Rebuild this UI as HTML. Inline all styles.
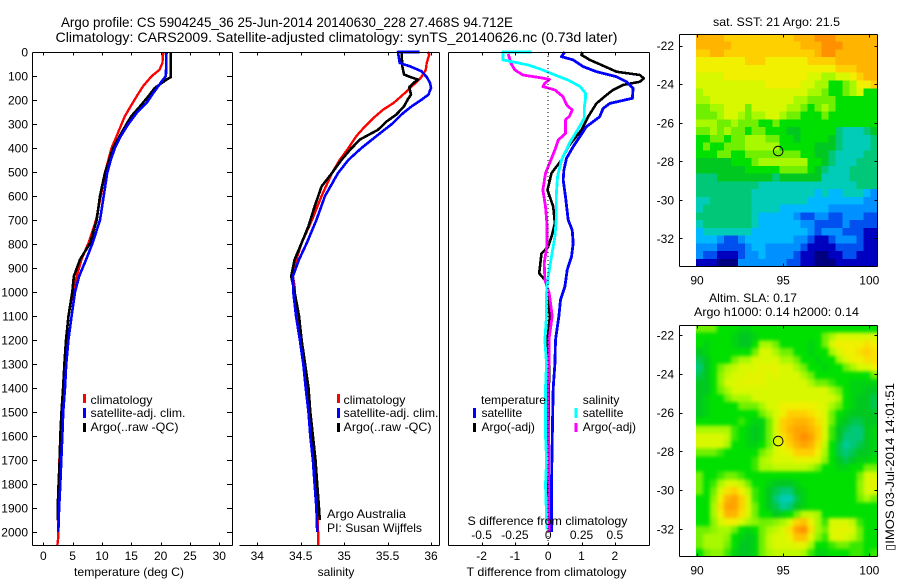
<!DOCTYPE html>
<html>
<head>
<meta charset="utf-8">
<title>Argo profile</title>
<style>
html,body{margin:0;padding:0;background:#fff;}
svg{display:block;}
text{font-family:"Liberation Sans",sans-serif;font-size:12px;fill:#000;}
.ttl{font-size:14px;}
</style>
</head>
<body>
<svg id="chart" xmlns="http://www.w3.org/2000/svg" width="900" height="580" viewBox="0 0 900 580">
<defs>
<filter id="slaBlur" x="-5%" y="-5%" width="110%" height="110%" color-interpolation-filters="sRGB"><feGaussianBlur stdDeviation="1.8"/></filter>
<clipPath id="slaClip"><rect x="696" y="325.5" width="181.5" height="231"/></clipPath>
</defs>
<rect x="0" y="0" width="900" height="580" fill="#fff"/>
<g id="maps"></g>
<g clip-path="url(#slaClip)"><g id="mapsB" filter="url(#slaBlur)"></g></g>
<g id="marks"></g>
<g id="axes"></g>

<text class="ttl" x="61" y="27" textLength="452" lengthAdjust="spacingAndGlyphs">Argo profile: CS 5904245_36 25-Jun-2014 20140630_228 27.468S 94.712E</text>
<text class="ttl" x="55.5" y="42" textLength="562" lengthAdjust="spacingAndGlyphs">Climatology: CARS2009. Satellite-adjusted climatology: synTS_20140626.nc (0.73d later)</text>

<text x="129" y="576" text-anchor="middle" textLength="110" lengthAdjust="spacingAndGlyphs">temperature (deg C)</text>
<text x="336" y="576" text-anchor="middle">salinity</text>
<text x="546.5" y="576" text-anchor="middle" textLength="160" lengthAdjust="spacingAndGlyphs">T difference from climatology</text>
<text x="547.5" y="525" text-anchor="middle" textLength="160" lengthAdjust="spacingAndGlyphs">S difference from climatology</text>

<g>
<rect x="83" y="394" width="3" height="9" fill="#f00"/>
<text x="90.5" y="404" textLength="62" lengthAdjust="spacingAndGlyphs">climatology</text>
<rect x="83" y="408" width="3" height="10" fill="#00f"/>
<text x="90.5" y="417" textLength="95" lengthAdjust="spacingAndGlyphs">satellite-adj. clim.</text>
<rect x="83" y="423" width="3" height="9" fill="#000"/>
<text x="90.5" y="431" textLength="88" lengthAdjust="spacingAndGlyphs">Argo(..raw -QC)</text>
</g>
<g>
<rect x="337" y="394" width="3" height="9" fill="#f00"/>
<text x="343.5" y="404" textLength="62" lengthAdjust="spacingAndGlyphs">climatology</text>
<rect x="337" y="408" width="3" height="10" fill="#00f"/>
<text x="343.5" y="417" textLength="95" lengthAdjust="spacingAndGlyphs">satellite-adj. clim.</text>
<rect x="337" y="423" width="3" height="9" fill="#000"/>
<text x="343.5" y="431" textLength="88" lengthAdjust="spacingAndGlyphs">Argo(..raw -QC)</text>
<text x="327" y="518" textLength="79" lengthAdjust="spacingAndGlyphs">Argo Australia</text>
<text x="327" y="532" textLength="95" lengthAdjust="spacingAndGlyphs">PI: Susan Wijffels</text>
</g>
<g>
<text x="481" y="404" textLength="65" lengthAdjust="spacingAndGlyphs">temperature</text>
<rect x="473" y="408" width="3" height="10" fill="#00f"/>
<text x="481.5" y="417">satellite</text>
<rect x="473" y="423" width="3" height="9" fill="#000"/>
<text x="481.5" y="431">Argo(-adj)</text>
<text x="582.7" y="404">salinity</text>
<rect x="574.5" y="408" width="3" height="10" fill="#0ff"/>
<text x="582.7" y="417">satellite</text>
<rect x="574.5" y="423" width="3" height="9" fill="#f0f"/>
<text x="582.7" y="431">Argo(-adj)</text>
</g>

<text x="776.5" y="26" text-anchor="middle" textLength="127" lengthAdjust="spacingAndGlyphs">sat. SST: 21 Argo: 21.5</text>
<text x="753" y="302" text-anchor="middle" textLength="88" lengthAdjust="spacingAndGlyphs">Altim. SLA: 0.17</text>
<text x="776.5" y="316" text-anchor="middle" textLength="165" lengthAdjust="spacingAndGlyphs">Argo h1000: 0.14 h2000: 0.14</text>
<text transform="translate(894,551) rotate(-90)" textLength="168" lengthAdjust="spacingAndGlyphs">▯IMOS 03-Jul-2014 14:01:51</text>
</svg>

<script>
/* ---------- depth ticks and tick labels ---------- */
var depthTicks = [0,100,200,300,400,500,600,700,800,900,1000,1100,1200,1300,1400,1500,1600,1700,1800,1900,2000];
var tempTicks = [0,5,10,15,20,25,30];
var salTicks = [34,34.5,35,35.5,36];
var tDiffTicks = [-2,-1,0,1,2];
var sDiffTicks = [-0.5,-0.25,0,0.25,0.5];
var lonTicks = [90,95,100];
var latTicks = [-22,-24,-26,-28,-30,-32];

/* ---------- temperature panel ---------- */
var tempClimDepth = [0,46,74,100,143,185,226,268,300,351,400,449,504,600,700,796,865,935,1004,1100,1200,1300,1400,1500,1600,1700,1800,1900,2020,2054];
var tempClim = [20.45,20.3,19.8,18.5,17,15.9,14.9,13.9,13.35,12.5,11.65,11.1,10.5,9.8,9,7.7,6.5,5.7,5,4.3,3.9,3.6,3.35,3.1,2.9,2.75,2.6,2.45,2.55,2.4];
var tempSatDepth = [0,100,122,171,212,254,300,351,400,449,504,600,700,796,865,935,1000,1100,1200,1300,1400,1500,1600,1700,1800,1900,2000];
var tempSat = [21,20.9,20.2,18.75,17.6,15.9,14.5,13.2,12.2,11.5,10.9,10.3,9.66,8.4,7.3,6.1,5.4,4.83,4.27,3.9,3.7,3.4,3.24,3.07,2.9,2.7,2.55];
var tempArgoDepth = [0,105,115,150,185,226,268,300,351,400,449,504,600,700,796,865,935,1000,1100,1200,1300,1400,1500,1600,1700,1800,1900,1950];
var tempArgo = [21.7,21.7,21,19,17.9,16.5,15,14.2,13,11.9,11.25,10.5,9.66,9.1,8,6.25,5.2,4.95,4.3,3.87,3.6,3.37,3.1,2.9,2.8,2.6,2.45,2.45];

/* ---------- salinity panel ---------- */
var salClimDepth = [0,10,46,74,104,129,171,212,240,268,310,351,400,449,504,600,700,796,865,935,976,1004,1050,1100,1200,1300,1400,1500,1600,1700,1800,1900,2000,2054];
var salClim = [35.96,35.98,35.95,35.94,35.89,35.82,35.7,35.57,35.45,35.36,35.24,35.14,35.05,34.95,34.86,34.74,34.63,34.51,34.45,34.41,34.43,34.43,34.44,34.46,34.5,34.54,34.57,34.6,34.63,34.65,34.67,34.69,34.7,34.7];
var salSatDepth = [0,0,25,46,60,80,104,129,150,178,199,226,254,300,351,400,449,504,600,700,796,865,935,1000,1100,1200,1300,1400,1500,1600,1700,1800,1900,2000];
var salSat = [35.87,35.62,35.63,35.64,35.76,35.89,35.95,35.99,36,35.97,35.89,35.78,35.68,35.55,35.37,35.2,35.05,34.93,34.78,34.68,34.57,34.48,34.41,34.415,34.446,34.49,34.53,34.557,34.59,34.61,34.64,34.66,34.68,34.69];
var salArgoDepth = [0,60,94,104,115,129,146,178,199,226,261,289,324,365,407,449,504,560,644,726,796,865,935,1000,1100,1200,1300,1400,1500,1600,1700,1800,1900,1950];
var salArgo = [35.66,35.67,35.69,35.76,35.85,35.8,35.75,35.77,35.73,35.69,35.6,35.49,35.39,35.18,35.07,34.97,34.86,34.74,34.66,34.59,34.51,34.43,34.39,34.43,34.48,34.51,34.55,34.59,34.61,34.64,34.67,34.69,34.71,34.72];

/* ---------- difference panel ---------- */
var dTSatDepth = [0,19,33,61,82,103,124,151,193,214,235,269,311,353,394,443,492,533,603,700,742,797,853,908,978,1033,1100,1200,1300,1400,1550,1800,2000];
var dTSat = [0.5,0.4,0.75,1.05,1.45,2.05,2.35,2.55,2.53,1.85,1.65,1.55,1.15,0.95,0.75,0.55,0.47,0.45,0.52,0.6,0.72,0.75,0.7,0.57,0.5,0.37,0.32,0.22,0.2,0.15,0.13,0.1,0.1];
var dTArgoDepth = [0,12,33,54,82,96,110,124,137,158,179,214,269,325,394,450,505,575,644,714,769,811,839,922,957,1019,1100,1200,1300,1400,1950];
var dTArgo = [1.03,1,1.25,1.6,2.05,2.75,2.87,2.75,2.25,1.95,1.75,1.45,1.2,1,0.6,0.4,0.1,-0.02,0.15,0.2,0.1,0,-0.2,-0.27,-0.05,-0.03,0.05,-0.02,0.03,0.02,0];
var dSSatDepth = [0,0,8,33,40,54,75,96,117,144,172,193,235,276,325,380,450,519,603,700,769,853,936,1005,1100,1200,1300,1400,1600,1700,1800,1990];
var dSSat = [-0.125,-0.34,-0.34,-0.34,-0.275,-0.15,-0.04,0.05,0.15,0.24,0.28,0.28,0.27,0.27,0.22,0.16,0.1,0.07,0.06,0.06,0.05,0.025,0,-0.0125,-0.0125,-0.025,-0.0125,-0.02,-0.02,-0.012,-0.02,-0.01];
var dSArgoDepth = [8,47,75,96,107,114,130,144,158,186,221,242,267,283,339,367,408,464,505,575,644,714,811,880,950,1005,1100,1200,1300,1400,2000];
var dSArgo = [-0.3,-0.28,-0.25,-0.19,-0.06,0.01,-0.025,-0.04,0.05,0.11,0.14,0.18,0.16,0.13,0.13,0.075,0.05,0.01,-0.02,-0.04,-0.02,-0.01,-0.01,-0.03,-0.025,0.0075,0.03,0.005,0.005,0,0.005];

/* ---------- floats ---------- */
var floatLon = [94.712];
var floatLat = [-27.468];

/* ---------- SST map, colour level per cell, north to south ---------- */
var sstRows = [
[14,14,14,14,13,13,13,13,13,13,13,13,13,13,14,14,14,15,15,15,14,14,14,14,14,14],
[14,14,14,14,14,13,13,13,13,13,13,13,13,13,13,14,14,14,15,15,15,14,14,14,14,14],
[13,13,14,14,13,13,13,13,13,13,13,13,13,13,13,13,13,14,15,15,14,14,14,14,14,14],
[12,12,12,12,12,12,12,13,13,13,12,12,12,12,12,12,13,13,13,13,14,14,14,14,14,14],
[12,12,12,12,12,12,12,12,12,12,12,12,12,12,12,12,12,12,12,12,13,13,13,14,14,14],
[11,11,11,11,12,12,12,12,12,12,12,12,12,12,12,12,11,11,10,10,11,11,12,13,14,14],
[11,11,11,11,11,11,11,11,11,11,12,12,12,12,12,11,11,10,10,8,8,9,10,12,12,13],
[10,11,11,11,11,11,11,11,11,11,11,11,11,11,11,11,10,10,9,8,8,9,10,11,8,8],
[10,10,11,11,11,11,11,11,11,11,11,11,11,11,10,10,9,9,9,9,8,8,8,8,8,8],
[9,9,10,10,11,11,11,9,11,11,11,11,11,10,10,9,8,9,10,9,8,8,8,8,8,8],
[9,9,9,10,11,11,10,9,10,10,11,11,10,9,9,8,8,8,9,8,8,8,8,8,8,8],
[10,10,10,9,9,10,9,9,9,8,8,9,8,8,8,8,8,8,8,8,8,8,8,8,8,8],
[9,9,10,9,10,9,9,8,9,9,8,8,8,7,7,8,8,8,8,8,6,5,5,5,6,7],
[8,8,9,9,8,9,9,10,10,10,9,9,8,8,7,8,8,8,8,7,6,5,5,5,5,6],
[8,9,8,8,9,9,9,10,10,10,10,10,8,8,8,8,8,7,7,7,6,5,5,5,5,6],
[8,8,8,9,9,8,8,9,9,9,9,9,9,9,9,8,8,7,7,6,5,5,5,5,6,6],
[7,7,7,7,7,8,8,8,9,10,10,10,10,10,10,10,8,8,7,6,5,5,5,6,6,6],
[7,7,7,7,7,7,7,8,8,8,8,8,9,9,9,9,8,7,6,5,5,5,6,6,6,6],
[6,6,6,7,7,7,7,7,7,7,7,6,7,7,7,7,7,7,5,5,5,5,6,6,6,6],
[6,6,6,6,6,6,6,6,6,5,5,5,5,5,5,5,5,5,5,5,5,5,5,6,6,6],
[6,6,6,6,6,6,6,6,5,5,5,5,5,5,5,5,5,4,5,4,4,5,5,5,4,3],
[5,5,6,6,6,6,6,6,5,5,5,5,5,5,5,5,4,4,4,4,4,4,4,4,3,3],
[5,6,6,6,6,6,6,6,5,5,5,5,4,4,4,4,4,4,4,3,3,3,3,3,3,3],
[6,6,6,6,6,6,6,6,5,4,4,4,4,4,3,2,2,3,3,2,2,3,3,3,2,2],
[5,6,6,6,6,6,6,6,5,4,4,4,4,4,4,3,3,2,2,2,2,3,2,2,2,2],
[4,5,5,5,5,5,5,5,4,4,4,4,4,4,4,4,3,2,3,3,3,2,2,2,1,1],
[4,4,4,3,2,2,3,4,4,4,4,4,4,4,3,3,2,1,1,2,3,3,3,2,1,1],
[3,3,3,2,2,2,2,3,4,4,3,3,3,3,3,2,1,1,1,1,2,2,2,2,1,1],
[3,2,2,1,1,1,2,3,3,4,3,3,3,3,2,1,1,0,0,1,1,2,2,1,1,1],
[1,1,1,0,0,0,3,3,3,3,3,3,3,2,2,1,1,0,0,0,1,1,1,1,1,1]
];

/* ---------- SLA map, colour level per cell, north to south ---------- */
var slaRows = [
[9,9,9,8,8,8,7.5,7.5,8,8,8,8,8,8,8,8,8,8,8,8,8,8,8,8,8,8],
[8,8,8,8,8,7.5,7,7,7.5,8,8,8,8,8,8,8,8,8,9,10,11,11,11,11,11,11],
[8,7.5,8,8,8,7.5,7,7,8,10,10,9,8,8,8,8,7.5,8,9,11,12,12,12,12,12.5,12],
[7,7.5,8,8,8,8,8,8,9,11,11,10,9,9,8,8,7.5,8,8,10,11,12,12,12.5,13,12.5],
[6.5,7,8,8,8,9,10,10,11,11,11,11,10,10,9,8,8,7.5,8,8,10,11,12,12,12.5,12.5],
[6,7,8,9,10,10.5,11,11,11,11.5,11.5,11.5,11,11,10,9,8,8,7.5,8,8,9,10,11,11,12],
[6.5,7,8,9.5,10.5,11,11,11.5,11.5,11.5,11,11.5,11,11,11,10,9,8,8,8,8,8,8,8,8,9],
[7,7,8,9.5,11,11,11.5,11.5,11.5,11.5,11,11,11,11,11,11,10,9,9,8.5,8,8,7.5,7.5,7.5,7.5],
[7,7,8,9,10,11,11,11,11,11,11,11,11,11,11,11,11,11,11,10,9,8,7.5,7.5,7,7],
[7,7.5,8,8,9,10,10,10,11,11,11,11,11,11,11,11,11,11,11,11,10,8,7.5,7,7,6.5],
[7,7.5,8,8,8,8,9,9,9,10,11,11,12,12,12,12,12,11.5,11,10,9,8,7.5,7,7,6.5],
[7,7.5,8,8,8,8,8,8,8,9,10,11,12,13,13,13,12.5,12,11,9,8,7.5,7,7,7,7],
[8,8,8,8,8,8,8.5,8,7.5,7.5,9,11,13,13.5,14,14,13.5,12.5,11,9,7.5,7,6.5,6.5,7,7],
[10,10,10,10,10,8.5,8,7.5,7,7.5,9,11,13,14,14.5,14.5,14,13,11,8.5,7,6.5,6,6,7,7.5],
[11,11,11,11,10.5,8.5,8,7.5,7,7.5,9,11,12.5,13.5,14.5,15,14.5,13,11,8.5,7,6,6,6,7,7.5],
[11,11,11,11,10,8,8,7.5,7.5,8,9,11,12,13,14,14.5,14,12.5,10.5,8,6.5,5.5,6,6.5,7,7.5],
[9,9,9,8.5,8,8,8,8,8,9,10,11,11.5,12,13,13,13,12,10,8,6.5,6,6.5,7,7,7.5],
[8,8,8,8,8,8,8,8,8.5,10,10.5,11,11,11,11.5,11.5,11.5,11,9.5,8,7,6.5,7,7.5,7.5,8],
[8,8,8,8,8,8,8,8,8.5,10,10,10.5,10.5,10.5,10.5,10.5,10,9,8,8,7.5,7.5,8,8,9,9],
[9,8,8,8.5,9,9,8.5,8,8,8,8,8,8,8,8,8,8,8,8,8,8,8,8,9,11,11],
[9,8,8.5,10,11,11,10.5,9,8,8,7.5,7,7,7,7.5,8,8,8,8,8,8,8,8,9.5,11,11.5],
[9,8,9,11,12.5,13,12,10.5,8.5,8,7,6.5,6,6,7,7.5,8,8,8,8,8,8,8,9.5,11,11],
[8,8,9.5,12,14,14.5,13,11,8.5,8,7,6,5,5,6.5,7.5,8,8,8,8,8,8,8,9,10,9],
[8,8,10,12.5,14.5,14.5,13,11,9,8,7,6.5,5.5,6,7,7.5,8,8,8,8,8,8,8,8,8,8],
[8,8,10,12,14,14,12.5,11,9,8,8,7,7.5,8,9,10.5,10.5,10,8,8,8,8,8,8,8,8],
[8,8,9.5,11,12,12,11,10,9.5,9,9,9.5,10,11,13,13.5,12,10,8.5,11,11,11,10.5,8.5,8,8],
[9,9,9.5,10,10,9,8,7.5,8,9,10,10.5,11,12.5,14.5,15,12.5,10,9,11,11.5,11.5,11,9,8,8],
[9,10,10,10,9.5,8,7.5,7,7.5,9,10.5,11,11,12,13.5,13.5,11.5,9.5,8.5,11,11.5,11,10.5,9,8,8],
[9,10,10,10,9,8,7,7,7.5,9,10.5,11,11,11,11.5,11.5,10,8,8,8.5,9,9,8.5,8.5,8,8],
[8,9,9.5,9.5,8.5,7.5,7,7,7.5,9,10,10.5,10.5,10.5,10.5,10,8.5,7.5,7.5,8,8,8,8.5,8.5,8,8.5]
];

/* ---------- colour ramp ---------- */
var levelColors = ["#000080","#0000c0","#0050f0","#0090ff","#00b8ff","#00ccb8","#00c878","#00c820","#00e000","#70f000","#a8f800","#d8f800","#f0f000","#ffd000","#ffb400","#ff9000"];

var NS = "http://www.w3.org/2000/svg";
var marks = document.getElementById("marks");
var axes = document.getElementById("axes");
var mapsA = document.getElementById("maps");
var mapsB = document.getElementById("mapsB");

function make(parent, tag, attrs, txt) {
  var el = document.createElementNS(NS, tag);
  for (var k in attrs) el.setAttribute(k, attrs[k]);
  if (txt !== undefined) el.textContent = txt;
  parent.appendChild(el);
  return el;
}
function linear(v0, p0, v1, p1) {
  return function (v) { return p0 + (v - v0) * (p1 - p0) / (v1 - v0); };
}
function levelColor(v) {
  var c = Math.max(0, Math.min(levelColors.length - 1, v));
  var i = Math.floor(c), f = c - i;
  var a = levelColors[i], b = levelColors[Math.min(i + 1, levelColors.length - 1)];
  var out = "rgb(";
  for (var j = 0; j < 3; j++) {
    var p = parseInt(a.substr(1 + j * 2, 2), 16), q = parseInt(b.substr(1 + j * 2, 2), 16);
    out += Math.round(p + (q - p) * f) + (j < 2 ? "," : ")");
  }
  return out;
}

/* axis functions */
var yDepth = linear(0, 52, 2000, 532);
var xTemp = linear(0, 43.3, 30, 219.3);
var xSal = linear(34, 257.3, 36, 431);
var xDT = linear(0, 548.2, 2, 614.8);
var xDS = linear(0, 548.2, 0.5, 614.8);
var xLon = linear(90, 697, 100, 869.3);
var yLatA = linear(-22, 45.7, -32, 238.4);
var yLatB = linear(-22, 335, -32, 529);

function line(x1, y1, x2, y2, name) {
  var el = make(axes, "line", {x1: x1, y1: y1, x2: x2, y2: y2, stroke: "#000", "stroke-width": 1, "shape-rendering": "crispEdges"});
  
  
  return el;
}
function label(x, y, s, anchor, name) {
  var el = make(axes, "text", {x: x, y: y, "text-anchor": anchor}, s);
  
  
  return el;
}
function profile(xFn, depths, values, color, width, name) {
  var pts = [];
  for (var i = 0; i < values.length; i++) pts.push(xFn(values[i]).toFixed(1) + "," + yDepth(depths[i]).toFixed(1));
  var el = make(marks, "polyline", {points: pts.join(" "), fill: "none", stroke: color, "stroke-width": width, "stroke-linejoin": "round", "shape-rendering": "crispEdges"});
  
  
  return el;
}

/* profile lines */
profile(xTemp, tempClimDepth, tempClim, "#f00", 2.4, "temperature-climatology-line");
profile(xTemp, tempArgoDepth, tempArgo, "#000", 2.6, "temperature-argo-line");
profile(xTemp, tempSatDepth, tempSat, "#00f", 2.6, "temperature-satellite-line");
profile(xSal, salClimDepth, salClim, "#f00", 2.4, "salinity-climatology-line");
profile(xSal, salArgoDepth, salArgo, "#000", 2.6, "salinity-argo-line");
profile(xSal, salSatDepth, salSat, "#00f", 2.6, "salinity-satellite-line");
profile(xDT, dTArgoDepth, dTArgo, "#000", 2.6, "t-difference-argo-line");
profile(xDT, dTSatDepth, dTSat, "#00f", 2.8, "t-difference-satellite-line");
profile(xDS, dSArgoDepth, dSArgo, "#f0f", 2.8, "s-difference-argo-line");
profile(xDS, dSSatDepth, dSSat, "#0ff", 2.8, "s-difference-satellite-line");

/* zero reference */
var zeroLine = make(marks, "line", {x1: xDT(0), y1: 52, x2: xDT(0), y2: 545, stroke: "#000", "stroke-width": 1, "stroke-dasharray": "1 3", "shape-rendering": "crispEdges"});



/* panel frames */
var panelTop = 52.5, panelBot = 545.5;
line(32.5, panelTop, 232.5, panelTop, "temperature-top-spine");
line(32.5, panelBot, 232.5, panelBot, "temperature-bottom-spine");
line(32.5, panelTop, 32.5, panelBot, "temperature-left-spine");
line(232.5, panelTop, 232.5, panelBot, "temperature-right-spine");
line(239.5, panelTop, 439.5, panelTop, "salinity-top-spine");
line(239.5, panelBot, 439.5, panelBot, "salinity-bottom-spine");
line(439.5, panelTop, 439.5, panelBot, "salinity-right-spine");
line(448.5, panelTop, 649.5, panelTop, "difference-top-spine");
line(448.5, panelBot, 649.5, panelBot, "difference-bottom-spine");
line(448.5, panelTop, 448.5, panelBot, "difference-left-spine");
line(649.5, panelTop, 649.5, panelBot, "difference-right-spine");

depthTicks.forEach(function (d) {
  var y = Math.round(yDepth(d)) + 0.5;
  line(32.5, y, 37, y, "depth-tick-left");
  line(227, y, 232.5, y, "depth-tick-right");
  label(28, yDepth(d) + 4.5, String(d), "end", "depth-tick-label");
});
tempTicks.forEach(function (t) {
  var x = Math.round(xTemp(t)) + 0.5;
  line(x, panelTop, x, panelTop + 3, "temperature-tick-top");
  line(x, panelBot - 3, x, panelBot, "temperature-tick-bottom");
  label(xTemp(t), 560, String(t), "middle", "temperature-tick-label");
});
salTicks.forEach(function (t) {
  var x = Math.round(xSal(t)) + 0.5;
  line(x, panelTop, x, panelTop + 3, "salinity-tick-top");
  line(x, panelBot - 3, x, panelBot, "salinity-tick-bottom");
  label(xSal(t), 560, String(t), "middle", "salinity-tick-label");
});
tDiffTicks.forEach(function (t) {
  var x = Math.round(xDT(t)) + 0.5;
  line(x, panelTop, x, panelTop + 3, "t-difference-tick-top");
  line(x, panelBot - 3, x, panelBot, "t-difference-tick-bottom");
  label(xDT(t), 560, String(t), "middle", "t-difference-tick-label");
});
sDiffTicks.forEach(function (t) {
  label(xDS(t), 539, String(t), "middle", "s-difference-tick-label");
});

/* maps */
function drawMap(layer, rows, yLat, latTop, latBot, boxTop, boxBot, cellName, prefix, bleed) {
  var lonL = 89.94, lonR = 100.46;
  var nC = rows[0].length, nR = rows.length;
  var dLon = (lonR - lonL) / nC, dLat = (latTop - latBot) / nR;
  rows.forEach(function (row, r) {
    row.forEach(function (v, c) {
      var x0 = xLon(lonL + c * dLon), x1 = xLon(lonL + (c + 1) * dLon);
      var y0 = yLat(latTop - r * dLat), y1 = yLat(latTop - (r + 1) * dLat);
      if (c === 0) x0 -= bleed;
      if (c === nC - 1) x1 += bleed;
      if (r === 0) y0 -= bleed;
      if (r === nR - 1) y1 += bleed;
      var el = make(layer, "rect", {x: x0.toFixed(2), y: y0.toFixed(2), width: (x1 - x0 + 0.4).toFixed(2), height: (y1 - y0 + 0.4).toFixed(2), fill: levelColor(v), "shape-rendering": "crispEdges"});
      
      
    });
  });
  var L = 679.5, R = 877.5;
  line(L, boxTop, R, boxTop, prefix + "-top-spine");
  line(L, boxBot, R, boxBot, prefix + "-bottom-spine");
  line(L, boxTop, L, boxBot, prefix + "-left-spine");
  line(R, boxTop, R, boxBot, prefix + "-right-spine");
  lonTicks.forEach(function (t) {
    var x = Math.round(xLon(t)) + 0.5;
    line(x, boxTop, x, boxTop + 3, prefix + "-lon-tick-top");
    line(x, boxBot - 3, x, boxBot, prefix + "-lon-tick-bottom");
    label(xLon(t), boxBot + 18, String(t), "middle", prefix + "-lon-tick-label");
  });
  latTicks.forEach(function (t) {
    var y = Math.round(yLat(t)) + 0.5;
    line(L, y, L + 3, y, prefix + "-lat-tick-left");
    line(R - 3, y, R, y, prefix + "-lat-tick-right");
    label(674, yLat(t) + 4.5, String(t), "end", prefix + "-lat-tick-label");
  });
  var dot = make(axes, "circle", {cx: xLon(floatLon[0]), cy: yLat(floatLat[0]), r: 4.8, fill: "none", stroke: "#000", "stroke-width": 1});
  
  
}
drawMap(mapsA, sstRows, yLatA, -21.39, -33.47, 34.5, 266.5, "sst-cell", "sst-map", 0);
drawMap(mapsB, slaRows, yLatB, -21.48, -33.43, 325.5, 556.5, "sla-cell", "sla-map", 10);
</script>
</body>
</html>
